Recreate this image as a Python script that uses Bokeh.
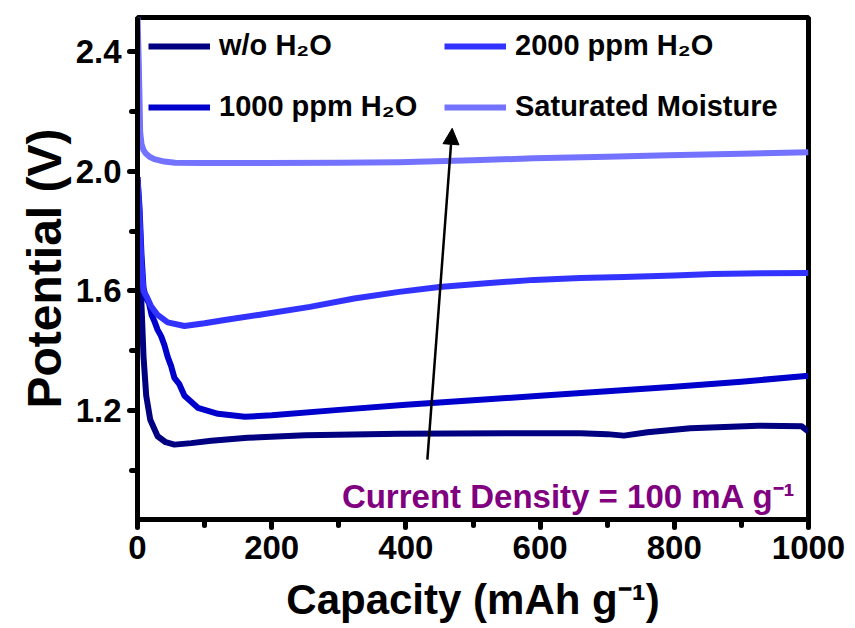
from bokeh.plotting import figure
from bokeh.models import (Legend, LegendItem, SingleIntervalTicker,
                          PrintfTickFormatter, Arrow, NormalHead, Range1d)
from bokeh.core.properties import value
from bokeh.embed import file_html
from bokeh.resources import INLINE

# ---------------- data ----------------
wo_cap = [0, 2, 4, 6, 9, 13, 19, 30, 42, 55, 80, 110, 164, 250, 390, 550, 660, 700, 725, 760, 824, 925, 990, 1000]
wo_v = [1.97, 1.85, 1.70, 1.55, 1.38, 1.25, 1.17, 1.115, 1.095, 1.087, 1.092, 1.10, 1.11, 1.118, 1.123, 1.125, 1.125, 1.122, 1.117, 1.128, 1.142, 1.150, 1.148, 1.13]

ppm1000_cap = [0, 3, 6, 9, 12, 17, 21, 25, 30, 35, 40, 45, 50, 55, 62, 70, 80, 90, 120, 160, 200, 300, 400, 500, 600, 700, 800, 900, 1000]
ppm1000_v = [1.98, 1.88, 1.72, 1.61, 1.58, 1.56, 1.52, 1.50, 1.47, 1.45, 1.42, 1.38, 1.35, 1.31, 1.29, 1.25, 1.23, 1.21, 1.19, 1.18, 1.185, 1.203, 1.22, 1.235, 1.25, 1.265, 1.28, 1.297, 1.317]

ppm2000_cap = [0, 3, 6, 9, 14, 20, 30, 45, 70, 100, 130, 180, 257, 323, 390, 450, 520, 591, 660, 725, 800, 858, 930, 1000]
ppm2000_v = [1.98, 1.85, 1.68, 1.60, 1.58, 1.55, 1.52, 1.495, 1.483, 1.492, 1.503, 1.52, 1.547, 1.575, 1.597, 1.613, 1.626, 1.637, 1.643, 1.647, 1.652, 1.657, 1.659, 1.66]

sat_cap = [0, 2, 4, 6, 9, 12, 18, 25, 40, 56, 100, 190, 300, 390, 500, 591, 700, 791, 900, 1000]
sat_v = [2.52, 2.35, 2.13, 2.09, 2.07, 2.06, 2.048, 2.04, 2.032, 2.028, 2.027, 2.027, 2.028, 2.03, 2.036, 2.043, 2.048, 2.053, 2.058, 2.063]

series_names = ["w/o H\u2082O", "1000 ppm H\u2082O", "2000 ppm H\u2082O", "Saturated Moisture"]
series_colors = ["#000080", "#0000CC", "#3333FF", "#7373FF"]

arrow_start = (432, 1.037)
arrow_end = (469, 2.143)
note_text = "Current Density = 100 mA g\u207b\u00b9"
note_pos = (981, 0.915)

FONT = "Liberation Sans"

# ---------------- figure ----------------
p = figure(width=855, height=628, output_backend="svg", toolbar_location=None,
           x_range=Range1d(0, 1000), y_range=Range1d(0.837, 2.513),
           min_border_left=137, min_border_right=47, min_border_top=17, min_border_bottom=109,
           x_axis_label="Capacity (mAh g\u207b\u00b9)", y_axis_label="Potential (V)")
p.grid.visible = False
p.background_fill_color = "white"
p.border_fill_color = "white"
p.outline_line_color = "black"
p.outline_line_width = 5

renderers = []
for xs, ys, c in [(wo_cap, wo_v, series_colors[0]), (ppm1000_cap, ppm1000_v, series_colors[1]),
                  (ppm2000_cap, ppm2000_v, series_colors[2]), (sat_cap, sat_v, series_colors[3])]:
    r = p.line(xs, ys, line_color=c, line_width=6, line_join="round")
    renderers.append(r)

# axes styling
p.xaxis.ticker = SingleIntervalTicker(interval=200, num_minor_ticks=2)
p.yaxis.ticker = SingleIntervalTicker(interval=0.4, num_minor_ticks=2)
p.yaxis.formatter = PrintfTickFormatter(format="%.1f")
for ax in [p.xaxis[0], p.yaxis[0]]:
    ax.axis_line_width = 5
    ax.axis_line_color = "black"
    ax.major_tick_line_width = 5
    ax.minor_tick_line_width = 5
    ax.major_tick_line_cap = "round"
    ax.minor_tick_line_cap = "round"
    ax.major_tick_in = 0
    ax.major_tick_out = 8
    ax.minor_tick_in = 0
    ax.minor_tick_out = 6
    ax.major_label_text_font = FONT
    ax.major_label_text_font_style = "bold"
    ax.major_label_text_font_size = "33px"
    ax.major_label_text_color = "black"
    ax.axis_label_text_font = FONT
    ax.axis_label_text_font_style = "bold"
    ax.axis_label_text_color = "black"
p.xaxis.major_label_standoff = 8
p.yaxis.major_label_standoff = 8
p.xaxis.axis_label_text_font_size = "42px"
p.yaxis.axis_label_text_font_size = "48px"
p.xaxis.axis_label_standoff = 14
p.yaxis.axis_label_standoff = 2

# arrow
p.add_layout(Arrow(end=NormalHead(size=16, fill_color="black", line_color="black"),
                   x_start=arrow_start[0], y_start=arrow_start[1],
                   x_end=arrow_end[0], y_end=arrow_end[1],
                   line_color="black", line_width=2.5))

# annotation text
p.text(x=[note_pos[0]], y=[note_pos[1]], text=[note_text], text_color="#800080",
       text_font=value(FONT), text_font_style="bold", text_font_size="33px",
       text_align="right", text_baseline="alphabetic")

# legends (two columns)
def make_legend(items, loc):
    lg = Legend(items=items, location=loc, orientation="vertical")
    lg.border_line_alpha = 0
    lg.background_fill_alpha = 0
    lg.padding = 0
    lg.margin = 0
    lg.spacing = 28
    lg.glyph_width = 62
    lg.glyph_height = 30
    lg.label_height = 30
    lg.label_standoff = 9
    lg.label_text_font = FONT
    lg.label_text_font_style = "bold"
    lg.label_text_font_size = "29px"
    lg.label_text_color = "black"
    return lg

leg1 = make_legend([LegendItem(label=series_names[0], renderers=[renderers[0]]),
                    LegendItem(label=series_names[1], renderers=[renderers[1]])], (11, 396))
leg2 = make_legend([LegendItem(label=series_names[2], renderers=[renderers[2]]),
                    LegendItem(label=series_names[3], renderers=[renderers[3]])], (307, 396))
p.add_layout(leg1)
p.add_layout(leg2)

open("out.html", "w").write(file_html(p, INLINE))
